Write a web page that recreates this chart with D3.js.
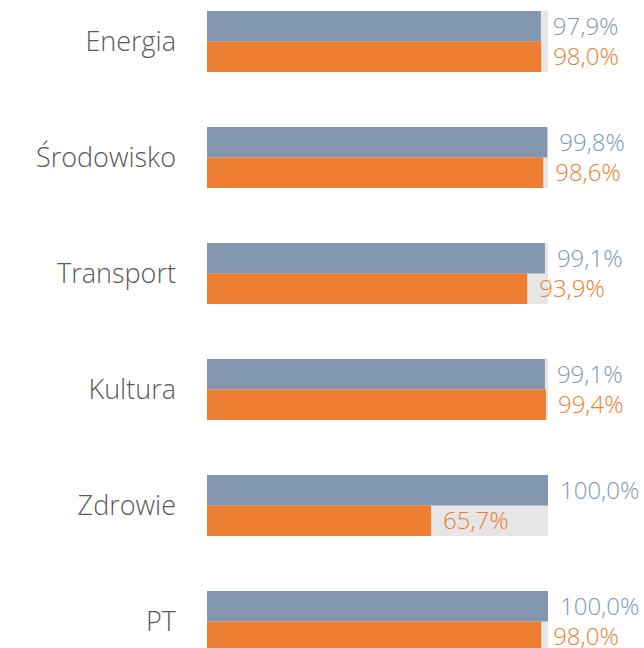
<!DOCTYPE html>
<html>
<head>
<meta charset="utf-8">
<script src="https://cdn.jsdelivr.net/npm/d3@7"></script>
<style>
  html, body { margin: 0; padding: 0; background: #fff; }
  svg { display: block; }
</style>
</head>
<body>
<svg id="chart"></svg>
<script>
const categories = ["Energia", "Środowisko", "Transport", "Kultura", "Zdrowie", "PT"];
const seriesKeys = ["a", "b"];
const seriesA = [97.9, 99.8, 99.1, 99.1, 100.0, 100.0];
const seriesB = [98.0, 98.6, 93.9, 99.4, 65.7, 98.0];

const COLOR_MAP = { a: "#8497B0", b: "#ED7D31" };
const BG_COLOR = "#E7E6E6";

const WIDTH = 644;
const HEIGHT = 648;
const CHART_START_X = 207;
const CHART_END_X = 548;
const GROUP_STEP = 116;
const GROUP_HEIGHT = 61;
const LABEL_GAP = 12;

const data = categories.map((c, i) => ({ category: c, a: seriesA[i], b: seriesB[i] }));

const svg = d3.select("#chart").attr("width", WIDTH).attr("height", HEIGHT);

const xScale = d3.scaleLinear().domain([0, 100]).range([CHART_START_X, CHART_END_X]);

const yScale = d3
  .scaleBand()
  .domain(categories)
  .range([11, 11 + (categories.length - 1) * GROUP_STEP + GROUP_HEIGHT])
  .paddingInner((GROUP_STEP - GROUP_HEIGHT) / GROUP_STEP)
  .paddingOuter(0);

const innerScale = d3.scaleBand().domain(seriesKeys).range([0, yScale.bandwidth()]);

const fmt = d3.formatLocale({ decimal: ",", thousands: " ", grouping: [3], currency: ["", ""] }).format(".1f");

// category labels
const yAxis = d3.axisLeft(yScale).tickSize(0).tickPadding(0);
const yAxisG = svg
  .append("g")
  .attr("transform", `translate(176, 0)`)
  .call(yAxis);
yAxisG.select(".domain").remove();
yAxisG
  .selectAll("text")
  .attr("fill", "#595959")
  .style("font-family", "'Open Sans', sans-serif")
  .style("font-weight", 300)
  .style("font-size", "27px")
  .attr("dy", "0.35em");

const groups = svg
  .selectAll(".group")
  .data(data)
  .join("g")
  .classed("group", true)
  .attr("transform", (d) => `translate(0, ${yScale(d.category)})`);

// 100% background
groups
  .append("rect")
  .attr("x", xScale(0))
  .attr("y", 0)
  .attr("width", xScale(100) - xScale(0))
  .attr("height", yScale.bandwidth())
  .attr("fill", BG_COLOR);

seriesKeys.forEach((key) => {
  groups
    .append("rect")
    .attr("x", xScale(0))
    .attr("y", innerScale(key))
    .attr("width", (d) => xScale(d[key]) - xScale(0))
    .attr("height", innerScale.bandwidth())
    .attr("fill", COLOR_MAP[key]);

  groups
    .append("text")
    .attr("x", (d) => xScale(d[key]) + LABEL_GAP)
    .attr("y", innerScale(key) + innerScale.bandwidth() / 2)
    .attr("dy", "0.36em")
    .attr("fill", COLOR_MAP[key])
    .style("font-family", "'Open Sans', sans-serif")
    .style("font-weight", 300)
    .style("font-size", "24px")
    .text((d) => fmt(d[key]) + "%");
});
</script>
</body>
</html>
